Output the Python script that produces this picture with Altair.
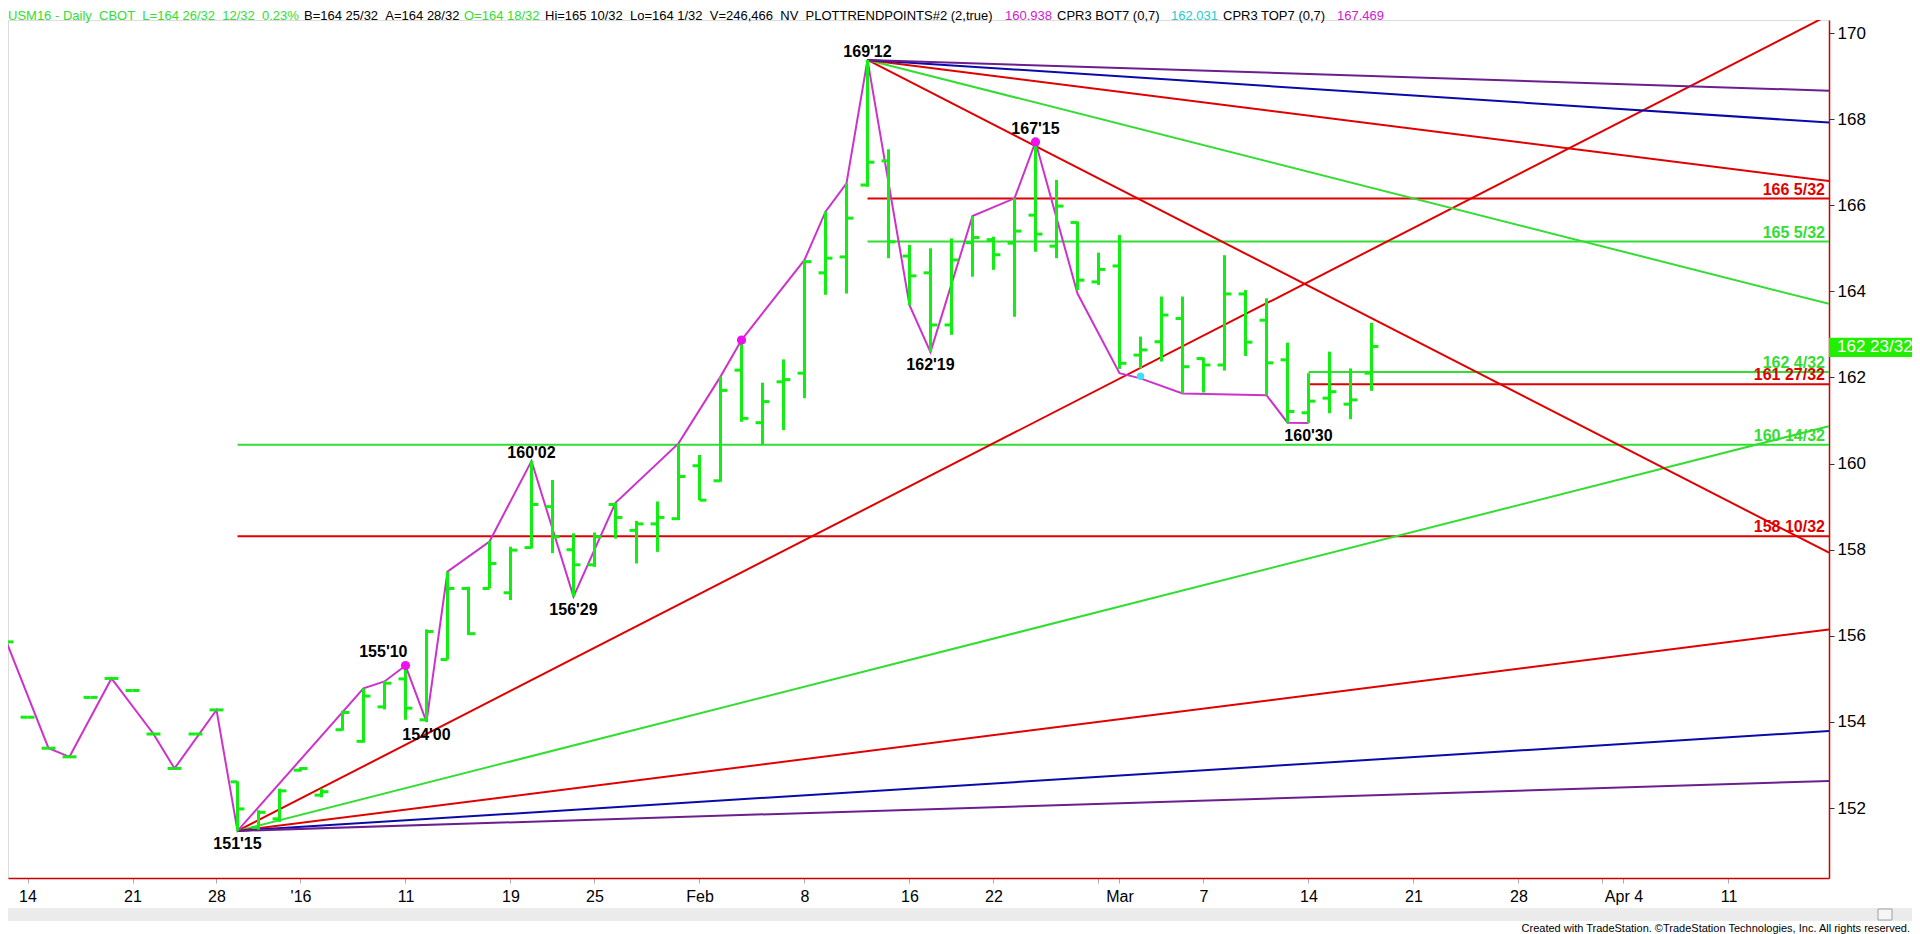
import json
import altair as alt
import pandas as pd

# ---------------- data ----------------
# trading-day index of each bar (0 = Mon 14 Dec 2015, holidays skipped)
bar_idx = list(range(-1, 65))
opens = [155.28,
         154.11, 153.39, 153.19, 154.57, 155.01, 154.73, 153.72, 152.92, 153.72, 154.28,
         152.61, 151.55, 151.75, 152.88, 152.30, 153.82, 153.55, 154.35, 155.00, 154.05,
         155.45, 157.10, 157.10, 157.00, 158.05, 159.00, 158.00, 157.65, 159.05, 158.45,
         158.60, 158.72, 159.95, 159.60, 162.17, 160.95, 161.90, 162.10, 164.43, 164.80,
         166.47, 167.03, 164.82, 164.43, 163.22, 165.13, 165.20, 165.12, 165.77, 165.05,
         165.60, 164.22, 164.59, 162.52, 162.83, 163.37, 162.44, 162.29, 163.94, 163.33,
         162.41, 161.18, 161.52, 161.38, 162.10]
highs = [155.86,
         154.11, 153.39, 153.19, 154.57, 155.01, 154.73, 153.72, 152.92, 153.72, 154.28,
         152.62, 151.95, 152.45, 152.95, 152.45, 154.26, 154.78, 154.95, 155.31, 156.15,
         157.49, 157.14, 158.20, 158.07, 160.06, 159.62, 158.38, 158.40, 159.09, 158.67,
         159.12, 160.47, 160.20, 162.02, 162.87, 161.88, 162.42, 164.73, 165.85, 166.51,
         169.375, 167.30, 165.08, 165.00, 165.23, 165.75, 165.27, 166.16, 167.47, 166.59,
         165.62, 164.90, 165.31, 162.95, 163.88, 163.88, 162.46, 164.84, 164.03, 163.84,
         162.81, 162.10, 162.60, 162.21, 163.27]
lows = [155.28,
        154.11, 153.39, 153.19, 154.57, 155.01, 154.73, 153.72, 152.92, 153.72, 154.28,
        151.47, 151.50, 151.68, 152.85, 152.25, 153.80, 153.52, 154.29, 154.05, 154.00,
        155.45, 156.02, 157.10, 156.83, 158.03, 157.92, 156.91, 157.60, 158.26, 157.68,
        157.95, 158.69, 159.15, 159.58, 160.97, 160.43, 160.78, 161.52, 163.92, 163.95,
        166.43, 164.77, 163.68, 162.59, 162.99, 164.34, 164.50, 163.41, 164.92, 164.77,
        164.03, 164.15, 162.20, 162.21, 162.37, 161.63, 161.65, 162.16, 162.50, 161.59,
        160.95, 160.94, 161.17, 161.03, 161.69]
closes = [155.86,
          154.11, 153.39, 153.19, 154.57, 155.01, 154.73, 153.72, 152.92, 153.72, 154.28,
          151.98, 151.90, 152.40, 152.92, 152.38, 154.22, 154.60, 154.90, 154.32, 156.10,
          157.10, 156.05, 157.68, 157.99, 159.05, 158.30, 157.65, 158.30, 158.75, 158.60,
          158.75, 159.70, 159.15, 161.70, 161.05, 161.44, 161.95, 164.69, 164.77, 165.70,
          167.00, 165.15, 164.36, 163.22, 164.73, 165.25, 164.85, 165.40, 165.33, 165.98,
          164.26, 164.51, 162.33, 162.64, 163.45, 162.25, 162.29, 163.94, 162.82, 162.34,
          161.21, 161.45, 161.67, 161.48, 162.72]

# swing (zig-zag) line
zz_idx = [-1, 1, 2, 4, 6, 7, 9, 10, 16, 17, 18, 19, 20, 22, 24, 26, 28, 31, 33, 34,
          37, 38, 39, 40, 42, 43, 45, 47, 48, 50, 52, 53, 55, 59, 60, 61]
zz_price = [155.86, 153.39, 153.19, 155.01, 153.72, 152.92, 154.28, 151.47, 154.78, 154.94,
            155.31, 154.00, 157.49, 158.19, 160.06, 156.91, 159.09, 160.47, 162.02, 162.87,
            164.73, 165.85, 166.51, 169.375, 163.68, 162.59, 165.75, 166.16, 167.47, 163.95,
            162.10, 161.98, 161.63, 161.59, 160.95, 160.94]

pivot_idx = [18, 34, 48]
pivot_price = [155.31, 162.87, 167.47]
cpr_idx = [53]
cpr_price = [162.03]

swing_idx = [10, 18, 19, 24, 26, 40, 43, 48, 61]
swing_price = [151.47, 155.31, 154.00, 160.06, 156.91, 169.375, 162.59, 167.47, 160.94]
swing_text = ["151'15", "155'10", "154'00", "160'02", "156'29", "169'12", "162'19", "167'15", "160'30"]
swing_pos = ["below", "above_left", "below", "above", "below", "above", "below", "above_dot", "below"]

level_price = [166 + 5 / 32, 165 + 5 / 32, 162 + 4 / 32, 161 + 27 / 32, 160 + 14 / 32, 158 + 10 / 32]
level_start = [40, 40, 61, 61, 10, 10]
level_kind = ["red", "green", "green", "red", "green", "red"]

fan_start_idx = [10, 10, 10, 10, 10, 40, 40, 40, 40, 40]
fan_start_price = [151.47] * 5 + [169.375] * 5
fan_end_price = [170.42, 160.87, 156.15, 153.79, 152.63, 157.93, 163.71, 166.56, 167.92, 168.66]
fan_kind = ["red", "green", "red", "blue", "purple", "red", "green", "red", "blue", "purple"]

tick_idx = [0, 5, 9, 13, 18, 23, 27, 32, 37, 42, 46, 51, 52, 56, 61, 66, 71, 75, 76, 81]
tick_text = ["14", "21", "28", "'16", "11", "19", "25", "Feb", "8", "16", "22", "", "Mar",
             "7", "14", "21", "28", "", "Apr 4", "11"]
price_ticks = [152, 154, 156, 158, 160, 162, 164, 166, 168, 170]

header_text = ["USM16 - Daily\u00a0\u00a0CBOT\u00a0\u00a0L=164 26/32\u00a0\u00a012/32\u00a0\u00a00.23%",
               "B=164 25/32\u00a0\u00a0A=164 28/32",
               "O=164 18/32",
               "Hi=165 10/32\u00a0\u00a0Lo=164 1/32\u00a0\u00a0V=246,466\u00a0\u00a0NV\u00a0\u00a0PLOTTRENDPOINTS#2 (2,true)",
               "160.938", "CPR3 BOT7 (0,7)", "162.031", "CPR3 TOP7 (0,7)", "167.469"]
header_kind = ["green", "black", "green", "black", "magenta", "black", "cyan", "black", "magenta"]
footer_text = "Created with TradeStation. \u00a9TradeStation Technologies, Inc. All rights reserved."

# ---------------- styling / layout ----------------
COL = {"red": "#e00000", "green": "#33dd33", "blue": "#0a0aa8", "purple": "#6b1f8f",
       "black": "#000000", "magenta": "#d020d0", "cyan": "#22cccc"}
BAR_GREEN = "#11ee11"
ZZ = "#cc33cc"
SANS = "Liberation Sans, Arial, sans-serif"

X0, X1 = -0.9286, 85.786
Y0, Y1 = 150.376, 170.302
W, H = 1821, 858
TOTAL_W = 1904
header_x = [8, 304, 464, 545, 1005, 1057, 1171, 1223, 1337]   # page px


def frac32(p):
    w = int(p)
    n = int(round((p - w) * 32))
    return f"{w} {n}/32"


xs = alt.Scale(domain=[X0, X1], nice=False, zero=False)
ys = alt.Scale(domain=[Y0, Y1], nice=False, zero=False)

labels_arr = [""] * 90
for k, t in zip(tick_idx, tick_text):
    labels_arr[k] = t
x_axis = alt.Axis(values=tick_idx, labelExpr=json.dumps(labels_arr) + "[datum.value]",
                  title=None, grid=False, domainColor="#cc0000", domainWidth=1.5,
                  tickColor="#aaaaaa", tickSize=5, labelFont=SANS, labelFontSize=16,
                  labelColor="black", labelPadding=5, labelFlush=False, labelOverlap=False)
y_axis = alt.Axis(orient="right", values=price_ticks, format="d", title=None, grid=False,
                  domainColor="#cc0000", domainWidth=1.5, tickColor="#333333", tickSize=5,
                  labelFont=SANS, labelFontSize=17, labelColor="black", labelPadding=3,
                  labelFlush=False, labelOverlap=False)


def X(f):
    return alt.X(f, scale=xs, axis=x_axis)


def Y(f):
    return alt.Y(f, scale=ys, axis=y_axis)


bars = pd.DataFrame({"i": bar_idx, "o": opens, "h": highs, "l": lows, "c": closes})
zz = pd.DataFrame({"i": zz_idx, "p": zz_price})
piv = pd.DataFrame({"i": pivot_idx, "p": pivot_price})
cpr = pd.DataFrame({"i": cpr_idx, "p": cpr_price})
sw = pd.DataFrame({"i": swing_idx, "p": swing_price, "t": swing_text, "pos": swing_pos})
lv = pd.DataFrame({"s": level_start, "e": [X1] * len(level_price), "p": level_price,
                   "col": [COL[k] for k in level_kind],
                   "t": [frac32(p) for p in level_price]})
fan = pd.DataFrame({"s": fan_start_idx, "sp": fan_start_price, "e": [X1] * len(fan_kind),
                    "ep": fan_end_price, "col": [COL[k] for k in fan_kind]})
last = pd.DataFrame({"c": [closes[-1]], "top": [closes[-1] + 0.20], "bot": [closes[-1] - 0.245],
                     "t": [frac32(closes[-1])]})
one = pd.DataFrame({"a": [0]})

layers = []
# horizontal levels
layers.append(alt.Chart(lv).mark_rule(strokeWidth=2, clip=True).encode(
    x=X("s:Q"), x2="e:Q", y=Y("p:Q"), color=alt.Color("col:N", scale=None)))
# fan lines
layers.append(alt.Chart(fan).mark_rule(strokeWidth=2, clip=True).encode(
    x=X("s:Q"), y=Y("sp:Q"), x2="e:Q", y2="ep:Q", color=alt.Color("col:N", scale=None)))
# zig-zag
layers.append(alt.Chart(zz).mark_line(color=ZZ, strokeWidth=2, clip=True).encode(
    x=X("i:Q"), y=Y("p:Q")))
# OHLC bars
layers.append(alt.Chart(bars).mark_rule(color=BAR_GREEN, strokeWidth=3, clip=True).encode(
    x=X("i:Q"), y=Y("l:Q"), y2="h:Q"))
layers.append(alt.Chart(bars).transform_calculate(il="datum.i - 0.33").mark_rule(
    color=BAR_GREEN, strokeWidth=3, clip=True).encode(x=X("il:Q"), x2="i:Q", y=Y("o:Q")))
layers.append(alt.Chart(bars).transform_calculate(ir="datum.i + 0.33").mark_rule(
    color=BAR_GREEN, strokeWidth=3, clip=True).encode(x=X("i:Q"), x2="ir:Q", y=Y("c:Q")))
# dots
layers.append(alt.Chart(piv).mark_circle(size=85, color="#ee11ee", opacity=1).encode(
    x=X("i:Q"), y=Y("p:Q")))
layers.append(alt.Chart(cpr).mark_circle(size=55, color="#44ddee", opacity=1).encode(
    x=X("i:Q"), y=Y("p:Q")))
# swing labels
txt = dict(font=SANS, fontWeight="bold", fontSize=16, color="black")
layers.append(alt.Chart(sw).transform_filter("datum.pos == 'above'").mark_text(
    baseline="alphabetic", dy=-3, **txt).encode(x=X("i:Q"), y=Y("p:Q"), text="t:N"))
layers.append(alt.Chart(sw).transform_filter("datum.pos == 'above_dot'").mark_text(
    baseline="alphabetic", dy=-8, **txt).encode(x=X("i:Q"), y=Y("p:Q"), text="t:N"))
layers.append(alt.Chart(sw).transform_filter("datum.pos == 'above_left'").mark_text(
    baseline="alphabetic", align="right", dx=2, dy=-9, **txt).encode(
    x=X("i:Q"), y=Y("p:Q"), text="t:N"))
layers.append(alt.Chart(sw).transform_filter("datum.pos == 'below'").mark_text(
    baseline="top", dy=5, **txt).encode(x=X("i:Q"), y=Y("p:Q"), text="t:N"))
# level labels
layers.append(alt.Chart(lv).mark_text(align="right", baseline="alphabetic", dy=-4,
                                      font=SANS, fontWeight="bold", fontSize=16).encode(
    x=alt.value(1817), y=Y("p:Q"), text="t:N", color=alt.Color("col:N", scale=None)))
# last price box
layers.append(alt.Chart(last).mark_rect(color="#22ee00", clip=False).encode(
    x=alt.value(W), x2=alt.value(TOTAL_W), y=Y("top:Q"), y2="bot:Q"))
layers.append(alt.Chart(last).mark_text(align="left", baseline="middle", dy=1, color="white",
                                        font=SANS, fontSize=17).encode(
    x=alt.value(W + 8), y=Y("c:Q"), text="t:N"))
# header
for t, k, px in zip(header_text, header_kind, header_x):
    layers.append(alt.Chart(one).mark_text(align="left", baseline="alphabetic", font=SANS,
                                           fontSize=13, color=COL[k], text=t).encode(
        x=alt.value(px - 8), y=alt.value(0)))
# scrollbar band + footer
layers.append(alt.Chart(one).mark_rect(color="#ebebeb").encode(
    x=alt.value(0), x2=alt.value(TOTAL_W), y=alt.value(888), y2=alt.value(901)))
layers.append(alt.Chart(one).mark_rect(color="#f6f6f6", stroke="#a0a0a0", strokeWidth=1).encode(
    x=alt.value(1870), x2=alt.value(1884), y=alt.value(889), y2=alt.value(900)))
layers.append(alt.Chart(one).mark_text(align="right", baseline="alphabetic", font=SANS,
                                       fontSize=11, color="black", text=footer_text).encode(
    x=alt.value(TOTAL_W - 2), y=alt.value(912)))

chart = alt.layer(*layers).properties(
    width=W, height=H,
    padding={"left": 0, "top": 12, "right": TOTAL_W - W, "bottom": 56},
    autosize=alt.AutoSizeParams(type="none"),
).configure_view(stroke=None).configure(background="white")

chart.save("out.html", embed_options={"renderer": "svg", "actions": False})
